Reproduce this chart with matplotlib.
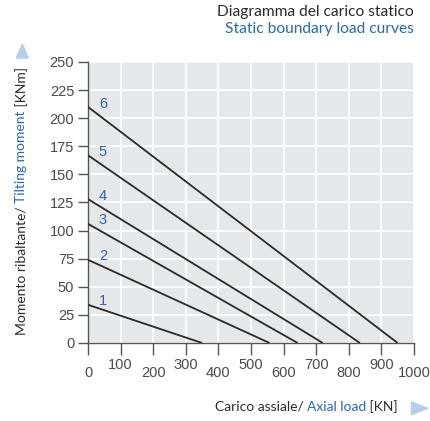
import matplotlib.pyplot as plt
import matplotlib.transforms as mtransforms

# curve end points: tilting moment at 0 load [KNm], axial load at 0 moment [KN]
curves = ['1', '2', '3', '4', '5', '6']
moment0 = [34, 74, 106, 128, 167, 210]
load0 = [350, 557, 643, 720, 834, 950]

xticks = [0, 100, 200, 300, 400, 500, 600, 700, 800, 900, 1000]
yticks = [0, 25, 50, 75, 100, 125, 150, 175, 200, 225, 250]

blue = '#2b68a6'
dark = '#2a2a2a'
grey_bg = '#e6e7e8'
tick_c = '#4a4a4a'

plt.rcParams['font.family'] = 'Liberation Sans'

fig = plt.figure(figsize=(4.3, 4.21), dpi=100)
ax = fig.add_axes([0.2047, 0.1853, 0.758, 0.6675])
ax.set_facecolor(grey_bg)

for m, l, name in zip(moment0, load0, curves):
    ax.plot([0, l], [m, 0], color=dark, lw=1.3, solid_capstyle='butt', zorder=3)
    ax.text(46, m + 3, name, color=blue, fontsize=10.5, ha='center', va='center')

ax.set_xlim(0, 1000)
ax.set_ylim(0, 250)
ax.set_xticks(xticks)
ax.set_yticks(yticks)
ax.grid(color='white', lw=1.2, zorder=1)
ax.set_axisbelow(True)

for s in ['top', 'right']:
    ax.spines[s].set_visible(False)
for s in ['left', 'bottom']:
    ax.spines[s].set_color('#555555')
    ax.spines[s].set_linewidth(1.0)

ax.tick_params(axis='y', length=7, width=1.0, color='#555555', pad=3,
               labelsize=10.5, labelcolor=tick_c)
ax.tick_params(axis='x', length=8.6, width=1.0, color='#555555', pad=2,
               labelsize=10.5, labelcolor=tick_c)

# staggered x tick labels
ax.set_xticklabels([str(v) for v in xticks])
for i, lab in enumerate(ax.get_xticklabels()):
    if i % 2 == 0:
        off = mtransforms.ScaledTranslation(0, -6 / 72, fig.dpi_scale_trans)
        lab.set_transform(lab.get_transform() + off)

# title
fig.text(0.963, 0.972, 'Diagramma del carico statico', ha='right', va='center',
         color=dark, fontsize=11.2, family='Lato')
fig.text(0.963, 0.930, 'Static boundary load curves', ha='right', va='center',
         color=blue, fontsize=11.2, family='Lato')

# x axis label (multi-colour)
fs = 10
t1 = fig.text(0.50, 0.024, 'Carico assiale/ ', ha='left', va='baseline',
              color=dark, fontsize=fs, family='Lato')
t2 = ax.annotate('Axial load', xy=(1, 0), xycoords=t1, ha='left', va='bottom',
                 color=blue, fontsize=fs, family='Lato')
t3 = ax.annotate(' [KN]', xy=(1, 0), xycoords=t2, ha='left', va='bottom',
                 color=dark, fontsize=fs, family='Lato')
fig.patches.append(plt.Polygon([[0.957, 0.045], [0.957, 0.015], [0.995, 0.030]],
                               closed=True, transform=fig.transFigure,
                               color='#b7cdea', figure=fig))

# y axis label (multi-colour, rotated)
u1 = fig.text(0.050, 0.204, 'Momento ribaltante/ ', ha='center', va='bottom',
              rotation=90, color=dark, fontsize=fs, family='Lato')
u2 = ax.annotate('Tilting moment', xy=(0.5, 1), xycoords=u1, ha='center', va='bottom',
                 rotation=90, color=blue, fontsize=fs, family='Lato')
u3 = ax.annotate(' [KNm]', xy=(0.5, 1), xycoords=u2, ha='center', va='bottom',
                 rotation=90, color=dark, fontsize=fs, family='Lato')
fig.patches.append(plt.Polygon([[0.038, 0.862], [0.066, 0.862], [0.052, 0.895]],
                               closed=True, transform=fig.transFigure,
                               color='#b7cdea', figure=fig))

fig.savefig('out.png', dpi=100)
